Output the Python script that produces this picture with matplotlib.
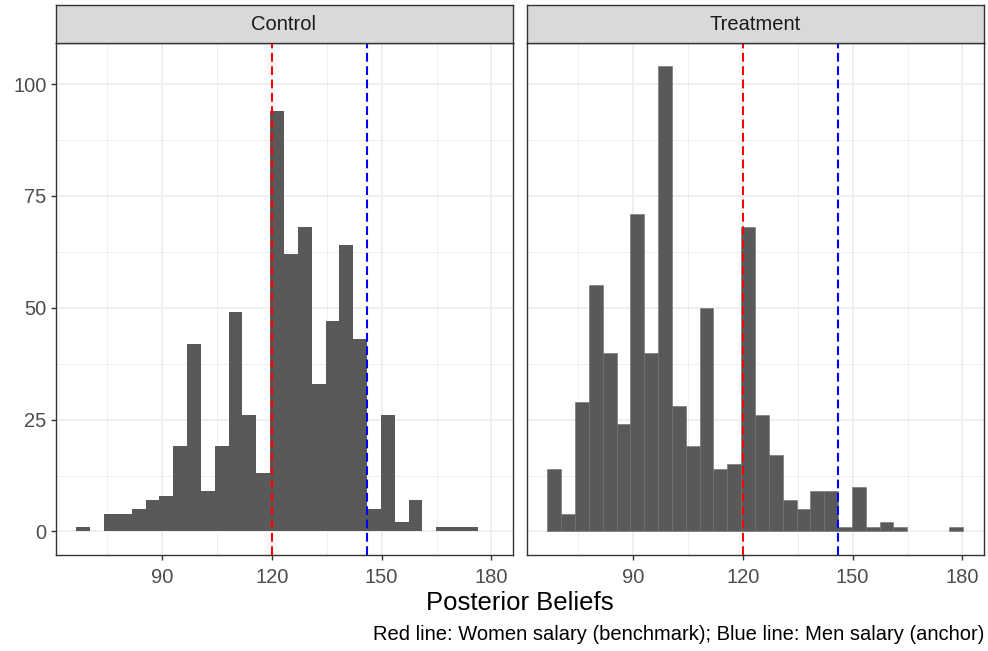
# Posterior beliefs histograms, control vs treatment (ggplot-like facets)

import numpy as np
import matplotlib.pyplot as plt

plt.rcParams['font.family'] = ['Liberation Sans', 'DejaVu Sans']

# ---------------- data ----------------

panels = ["Control", "Treatment"]

# 30 bins of equal width over the shared x range
bin_lo = 66.5
bin_hi = 180.1
n_bins = 30

control_counts = [1, 0, 4, 4, 5, 7, 8, 19, 42, 9,
                  19, 49, 26, 13, 94, 62, 68, 33, 47, 64,
                  43, 5, 26, 2, 7, 0, 1, 1, 1, 0]
treatment_counts = [14, 4, 29, 55, 40, 24, 71, 40, 104, 28,
                    19, 50, 14, 15, 68, 26, 17, 7, 5, 9,
                    9, 1, 10, 1, 2, 1, 0, 0, 0, 1]

women_salary = 120    # red line (benchmark)
men_salary = 146      # blue line (anchor)

x_ticks = [90, 120, 150, 180]
x_minor = [75, 105, 135, 165]
y_ticks = [0, 25, 50, 75, 100]
y_minor = [12.5, 37.5, 62.5, 87.5]

# ------------- layout -------------

W, H = 988, 651
fig = plt.figure(figsize=(W / 100, H / 100), dpi=100)

panel_left = [55.5, 526.5]
panel_w = 457.0
panel_top = 43.0
panel_bot = 554.7
strip_top = 5.0

edges = np.linspace(bin_lo, bin_hi, n_bins + 1)
widths = np.diff(edges)
all_counts = [control_counts, treatment_counts]

xmin = bin_lo - 0.05 * (bin_hi - bin_lo)
xmax = bin_hi + 0.05 * (bin_hi - bin_lo)
ymax_data = max(max(control_counts), max(treatment_counts))
ylo, yhi = -0.05 * ymax_data, ymax_data * 1.05

grey20 = '#333333'
grey30 = '#4D4D4D'

for i, name in enumerate(panels):
    ax = fig.add_axes([panel_left[i] / W, 1 - panel_bot / H,
                       panel_w / W, (panel_bot - panel_top) / H])
    counts = np.array(all_counts[i])

    # grid
    for v in x_minor:
        ax.axvline(v, color='#EBEBEB', lw=0.55, zorder=0)
    for v in y_minor:
        ax.axhline(v, color='#EBEBEB', lw=0.55, zorder=0)
    for v in x_ticks:
        ax.axvline(v, color='#EBEBEB', lw=1.1, zorder=0)
    for v in y_ticks:
        ax.axhline(v, color='#EBEBEB', lw=1.1, zorder=0)

    keep = counts > 0
    if i == 1:
        ax.bar(edges[:-1][keep], counts[keep], width=widths[keep], align='edge',
               color='#595959', edgecolor='#6E6E6E', linewidth=0.4, zorder=2)
    else:
        ax.bar(edges[:-1][keep], counts[keep], width=widths[keep], align='edge',
               color='#595959', linewidth=0, zorder=2)

    ax.axvline(women_salary, color='red', lw=1.5, dashes=(4.2, 2.2), zorder=3)
    ax.axvline(men_salary, color='blue', lw=1.5, dashes=(4.2, 2.2), zorder=3)

    ax.set_xlim(xmin, xmax)
    ax.set_ylim(ylo, yhi)
    ax.set_xticks(x_ticks)
    ax.set_yticks(y_ticks)
    ax.tick_params(axis='both', colors=grey20, length=3.5, width=1.0,
                   labelcolor=grey30, labelsize=14.5, pad=3)
    ax.tick_params(axis='x', pad=6)
    if i == 1:
        ax.tick_params(axis='y', left=False, labelleft=False)
    for s in ax.spines.values():
        s.set_color(grey20)
        s.set_linewidth(1.0)
        s.set_zorder(5)

    # facet strip
    sax = fig.add_axes([panel_left[i] / W, 1 - panel_top / H,
                        panel_w / W, (panel_top - strip_top) / H])
    sax.set_facecolor('#D9D9D9')
    sax.set_xticks([])
    sax.set_yticks([])
    for s in sax.spines.values():
        s.set_color(grey20)
        s.set_linewidth(1.0)
    sax.text(0.5, 0.5, name, ha='center', va='center', fontsize=14.5,
             color='#1A1A1A', transform=sax.transAxes)

fig.text((55.5 + 983.5) / 2 / W, 1 - 603 / H, "Posterior Beliefs",
         ha='center', va='center', fontsize=18.5, color='black')
fig.text(984.5 / W, 1 - 635 / H,
         "Red line: Women salary (benchmark); Blue line: Men salary (anchor)",
         ha='right', va='center', fontsize=14.5, color='black')

fig.savefig("out.png", dpi=100)
